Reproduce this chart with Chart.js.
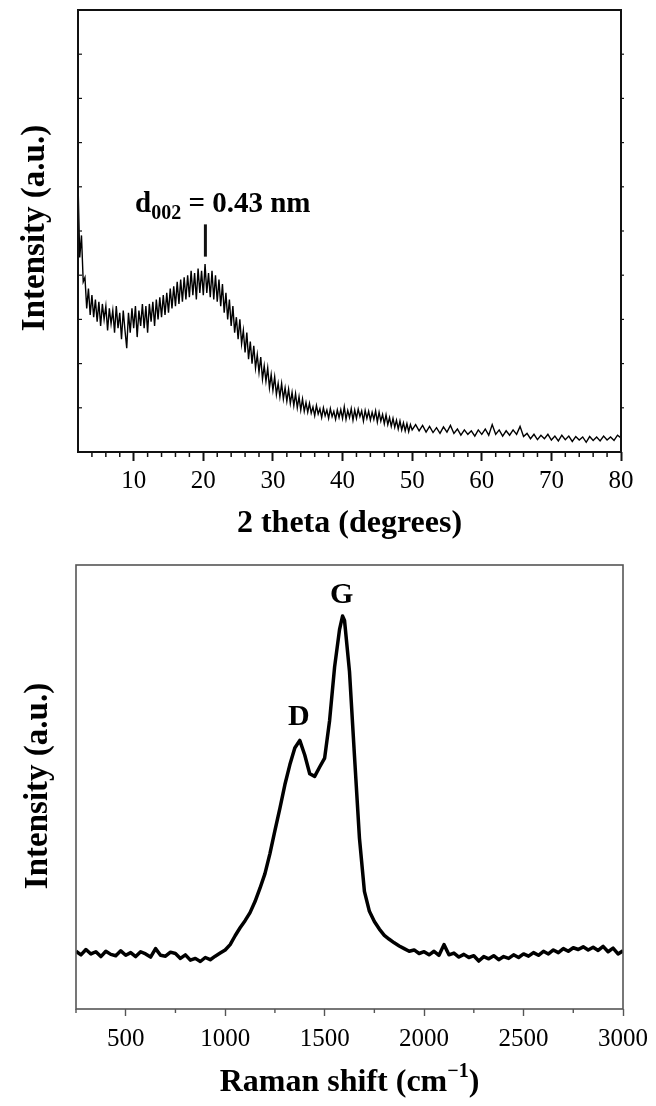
<!DOCTYPE html>
<html>
<head>
<meta charset="utf-8">
<script src="https://cdn.jsdelivr.net/npm/chart.js@4.4.1/dist/chart.umd.min.js"></script>
<style>
  html, body { margin: 0; padding: 0; background: #fff; }
  canvas { display: block; }
</style>
</head>
<body>
<canvas id="xrdChart" width="656" height="553"></canvas>
<canvas id="ramanChart" width="656" height="553"></canvas>
<script>
/* =====================================================
   DATA
===================================================== */
// one row per degree up to 50, then half-degree steps
const xrdTheta = [
  2, 2.25, 2.5, 2.75,   3, 3.25, 3.5, 3.75,   4, 4.25, 4.5, 4.75,
  5, 5.25, 5.5, 5.75,   6, 6.25, 6.5, 6.75,   7, 7.25, 7.5, 7.75,
  8, 8.25, 8.5, 8.75,   9, 9.25, 9.5, 9.75,   10, 10.25, 10.5, 10.75,
  11, 11.25, 11.5, 11.75,   12, 12.25, 12.5, 12.75,   13, 13.25, 13.5, 13.75,
  14, 14.25, 14.5, 14.75,   15, 15.25, 15.5, 15.75,   16, 16.25, 16.5, 16.75,
  17, 17.25, 17.5, 17.75,   18, 18.25, 18.5, 18.75,   19, 19.25, 19.5, 19.75,
  20, 20.25, 20.5, 20.75,   21, 21.25, 21.5, 21.75,   22, 22.25, 22.5, 22.75,
  23, 23.25, 23.5, 23.75,   24, 24.25, 24.5, 24.75,   25, 25.25, 25.5, 25.75,
  26, 26.25, 26.5, 26.75,   27, 27.25, 27.5, 27.75,   28, 28.25, 28.5, 28.75,
  29, 29.25, 29.5, 29.75,   30, 30.25, 30.5, 30.75,   31, 31.25, 31.5, 31.75,
  32, 32.25, 32.5, 32.75,   33, 33.25, 33.5, 33.75,   34, 34.25, 34.5, 34.75,
  35, 35.25, 35.5, 35.75,   36, 36.25, 36.5, 36.75,   37, 37.25, 37.5, 37.75,
  38, 38.25, 38.5, 38.75,   39, 39.25, 39.5, 39.75,   40, 40.25, 40.5, 40.75,
  41, 41.25, 41.5, 41.75,   42, 42.25, 42.5, 42.75,   43, 43.25, 43.5, 43.75,
  44, 44.25, 44.5, 44.75,   45, 45.25, 45.5, 45.75,   46, 46.25, 46.5, 46.75,
  47, 47.25, 47.5, 47.75,   48, 48.25, 48.5, 48.75,   49, 49.25, 49.5, 49.75,
  50,
  50.5, 51, 51.5, 52, 52.5, 53, 53.5, 54, 54.5, 55,
  55.5, 56, 56.5, 57, 57.5, 58, 58.5, 59, 59.5, 60,
  60.5, 61, 61.5, 62, 62.5, 63, 63.5, 64, 64.5, 65,
  65.5, 66, 66.5, 67, 67.5, 68, 68.5, 69, 69.5, 70,
  70.5, 71, 71.5, 72, 72.5, 73, 73.5, 74, 74.5, 75,
  75.5, 76, 76.5, 77, 77.5, 78, 78.5, 79, 79.5, 80
];
const xrdIntensity = [
  6.10, 4.40, 4.90, 3.85,   3.95, 3.25, 3.70, 3.10,   3.55, 3.05, 3.45, 2.95,
  3.40, 2.85, 3.35, 3.00,   3.30, 2.75, 3.25, 2.90,   3.20, 2.70, 3.30, 2.80,
  3.15, 2.55, 3.20, 2.75,   2.35, 3.15, 2.70, 3.25,   2.80, 3.30, 2.60, 3.20,
  2.85, 3.35, 2.80, 3.30,   2.70, 3.35, 2.95, 3.40,   2.85, 3.45, 3.00, 3.50,
  3.05, 3.55, 3.10, 3.60,   3.15, 3.70, 3.25, 3.75,   3.30, 3.85, 3.35, 3.90,
  3.40, 3.95, 3.45, 4.00,   3.50, 4.10, 3.55, 4.05,   3.45, 4.15, 3.60, 4.10,
  3.55, 4.25, 3.60, 4.05,   3.50, 4.10, 3.45, 4.00,   3.40, 3.90, 3.30, 3.80,
  3.15, 3.60, 3.00, 3.45,   2.85, 3.30, 2.70, 3.05,   2.55, 3.00, 2.45, 2.75,
  2.25, 2.70, 2.10, 2.50,   2.00, 2.40, 1.90, 2.20,   1.80, 2.15, 1.65, 1.95,
  1.60, 1.90, 1.45, 1.75,   1.40, 1.70, 1.30, 1.55,   1.25, 1.55, 1.20, 1.45,
  1.15, 1.42, 1.10, 1.35,   1.05, 1.32, 1.00, 1.25,   0.95, 1.20, 0.92, 1.12,
  0.90, 1.10, 0.88, 1.02,   0.82, 1.05, 0.86, 0.98,   0.78, 1.00, 0.82, 0.95,
  0.76, 0.98, 0.80, 0.92,   0.74, 0.95, 0.78, 0.96,   0.76, 1.02, 0.74, 0.94,
  0.78, 0.98, 0.72, 0.95,   0.76, 0.97, 0.80, 0.93,   0.70, 0.94, 0.76, 0.92,
  0.72, 0.90, 0.74, 0.93,   0.68, 0.90, 0.70, 0.85,   0.64, 0.84, 0.62, 0.78,
  0.58, 0.76, 0.56, 0.72,   0.52, 0.70, 0.50, 0.66,   0.48, 0.64, 0.46, 0.62,
  0.50,
  0.62, 0.48, 0.60, 0.45, 0.58, 0.44, 0.55, 0.42, 0.57, 0.45,
  0.60, 0.42, 0.52, 0.38, 0.50, 0.40, 0.48, 0.36, 0.50, 0.40,
  0.52, 0.38, 0.62, 0.40, 0.50, 0.36, 0.48, 0.38, 0.50, 0.40,
  0.58, 0.35, 0.42, 0.30, 0.40, 0.28, 0.38, 0.30, 0.40, 0.27,
  0.36, 0.25, 0.38, 0.28, 0.36, 0.24, 0.35, 0.27, 0.34, 0.22,
  0.35, 0.26, 0.34, 0.25, 0.36, 0.27, 0.34, 0.26, 0.38, 0.32
];
const xrdTicks = [10, 20, 30, 40, 50, 60, 70, 80];
const xrdMinorTicks = [4, 6, 8, 12, 14, 16, 18, 22, 24, 26, 28, 32, 34, 36, 38, 42, 44, 46, 48,
  52, 54, 56, 58, 62, 64, 66, 68, 72, 74, 76, 78];
const xrdYTicks = [1, 2, 3, 4, 5, 6, 7, 8, 9];
const xrdPeakTheta = 20.3;

const ramanShift = [
  250, 275, 300, 325, 350, 375, 400, 425, 450, 475,
  500, 525, 550, 575, 600, 625, 650, 675, 700, 725,
  750, 775, 800, 825, 850, 875, 900, 925, 950, 975,
  1000, 1025, 1050, 1075, 1100, 1125, 1150, 1175, 1200, 1225,
  1250, 1275, 1300, 1325, 1350, 1375, 1400, 1425, 1450, 1475,
  1500, 1525, 1550, 1575, 1590, 1600, 1625, 1650, 1675, 1700,
  1725, 1750, 1775, 1800, 1825, 1850, 1875, 1900, 1925, 1950,
  1975, 2000, 2025, 2050, 2075, 2100, 2125, 2150, 2175, 2200,
  2225, 2250, 2275, 2300, 2325, 2350, 2375, 2400, 2425, 2450,
  2475, 2500, 2525, 2550, 2575, 2600, 2625, 2650, 2675, 2700,
  2725, 2750, 2775, 2800, 2825, 2850, 2875, 2900, 2925, 2950,
  2975, 3000
];
const ramanIntensity = [
  1.30, 1.22, 1.34, 1.24, 1.29, 1.18, 1.30, 1.23, 1.20, 1.31,
  1.21, 1.27, 1.18, 1.29, 1.24, 1.17, 1.36, 1.21, 1.19, 1.28,
  1.25, 1.14, 1.22, 1.10, 1.14, 1.07, 1.16, 1.11, 1.19, 1.26,
  1.33, 1.45, 1.65, 1.83, 1.99, 2.17, 2.42, 2.72, 3.05, 3.50,
  4.02, 4.52, 5.05, 5.50, 5.88, 6.05, 5.72, 5.30, 5.24, 5.45,
  5.65, 6.50, 7.70, 8.55, 8.85, 8.75, 7.60, 5.70, 3.85, 2.65,
  2.20, 1.97, 1.80, 1.66, 1.57, 1.49, 1.42, 1.36, 1.30, 1.33,
  1.25, 1.29, 1.22, 1.30, 1.21, 1.45, 1.22, 1.26, 1.17, 1.23,
  1.16, 1.20, 1.08, 1.18, 1.13, 1.20, 1.11, 1.18, 1.14, 1.22,
  1.16, 1.24, 1.19, 1.27, 1.21, 1.30, 1.24, 1.33, 1.27, 1.36,
  1.30, 1.38, 1.34, 1.40, 1.33, 1.39, 1.32, 1.41, 1.29, 1.37,
  1.24, 1.31
];
const ramanTicks = [500, 1000, 1500, 2000, 2500, 3000];
const ramanMinorTicks = [250, 750, 1250, 1750, 2250, 2750];
const ramanPeakD = 1370;
const ramanPeakG = 1585;

/* =====================================================
   HELPERS
===================================================== */
const FONT = '"Liberation Serif", "Times New Roman", serif';

function line(ctx, x1, y1, x2, y2) {
  ctx.beginPath();
  ctx.moveTo(x1, y1);
  ctx.lineTo(x2, y2);
  ctx.stroke();
}

// draws bold text pieces one after another (for sub/superscripts)
function drawParts(ctx, parts, x, y, center) {
  let total = 0;
  parts.forEach(p => {
    ctx.font = `bold ${p.size}px ${FONT}`;
    total += ctx.measureText(p.text).width;
  });
  let cx = center ? x - total / 2 : x;
  parts.forEach(p => {
    ctx.font = `bold ${p.size}px ${FONT}`;
    ctx.fillText(p.text, cx, y + (p.dy || 0));
    cx += ctx.measureText(p.text).width;
  });
}

function verticalTitle(ctx, text, x, y) {
  ctx.save();
  ctx.translate(x, y);
  ctx.rotate(-Math.PI / 2);
  ctx.font = `bold 33px ${FONT}`;
  ctx.textAlign = "center";
  ctx.textBaseline = "middle";
  ctx.fillText(text, 0, 0);
  ctx.restore();
}

/* =====================================================
   XRD
===================================================== */
const xrdDecor = {
  id: "xrdDecor",
  afterDraw(chart) {
    const { ctx, chartArea: a, scales: { x, y } } = chart;
    ctx.save();
    ctx.strokeStyle = "#111";
    ctx.lineWidth = 2;
    ctx.strokeRect(a.left, a.top, a.right - a.left, a.bottom - a.top);

    ctx.lineWidth = 1.5;
    xrdMinorTicks.forEach(v => {
      const px = x.getPixelForValue(v);
      line(ctx, px, a.bottom, px, a.bottom + 5);
    });
    ctx.lineWidth = 1.2;
    xrdYTicks.forEach(v => {
      const py = y.getPixelForValue(v);
      line(ctx, a.left, py, a.left + 4, py);
      line(ctx, a.right, py, a.right + 3, py);
    });

    // d002 marker
    ctx.lineWidth = 3;
    const mx = x.getPixelForValue(xrdPeakTheta);
    line(ctx, mx, y.getPixelForValue(5.15), mx, y.getPixelForValue(4.42));

    ctx.fillStyle = "#000";
    ctx.textBaseline = "alphabetic";
    ctx.textAlign = "left";
    drawParts(ctx, [
      { text: "d", size: 29 },
      { text: "002", size: 20, dy: 7 },
      { text: " = 0.43 nm", size: 29 }
    ], x.getPixelForValue(10.2), y.getPixelForValue(5.43), false);

    verticalTitle(ctx, "Intensity (a.u.)", 35, 228);
    ctx.textAlign = "center";
    ctx.textBaseline = "middle";
    ctx.font = `bold 32px ${FONT}`;
    ctx.fillText("2 theta (degrees)", (a.left + a.right) / 2, 524);
    ctx.restore();
  }
};

new Chart(document.getElementById("xrdChart"), {
  type: "line",
  data: {
    datasets: [{
      data: xrdTheta.map((t, i) => ({ x: t, y: xrdIntensity[i] })),
      borderColor: "#000",
      borderWidth: 1.4,
      pointRadius: 0,
      tension: 0
    }]
  },
  options: {
    responsive: false,
    animation: false,
    devicePixelRatio: 1,
    layout: { padding: { left: 0, right: 35, top: 10, bottom: 0 } },
    plugins: { legend: { display: false }, tooltip: { enabled: false } },
    scales: {
      x: {
        type: "linear",
        min: 2,
        max: 80,
        afterBuildTicks: s => { s.ticks = xrdTicks.map(v => ({ value: v })); },
        afterFit: s => { s.height = 101; },
        ticks: { color: "#000", padding: 5, font: { family: FONT, size: 25 }, callback: v => String(v) },
        grid: { display: true, drawOnChartArea: false, tickLength: 9, tickWidth: 2, tickColor: "#111" },
        border: { display: false }
      },
      y: {
        min: 0,
        max: 10,
        afterFit: s => { s.width = 78; },
        ticks: { display: false },
        grid: { display: false },
        border: { display: false }
      }
    }
  },
  plugins: [xrdDecor]
});

/* =====================================================
   RAMAN
===================================================== */
const ramanDecor = {
  id: "ramanDecor",
  afterDraw(chart) {
    const { ctx, chartArea: a, scales: { x, y } } = chart;
    ctx.save();
    ctx.strokeStyle = "#555";
    ctx.lineWidth = 1.6;
    ctx.strokeRect(a.left, a.top, a.right - a.left, a.bottom - a.top);

    ctx.lineWidth = 1.4;
    ramanMinorTicks.forEach(v => {
      const px = x.getPixelForValue(v);
      line(ctx, px, a.bottom, px, a.bottom + 4);
    });

    ctx.fillStyle = "#000";
    ctx.textAlign = "center";
    ctx.textBaseline = "middle";
    ctx.font = `bold 30px ${FONT}`;
    ctx.fillText("D", x.getPixelForValue(ramanPeakD), y.getPixelForValue(6.58));
    ctx.fillText("G", x.getPixelForValue(ramanPeakG), y.getPixelForValue(9.32));

    verticalTitle(ctx, "Intensity (a.u.)", 38, 233);
    ctx.textAlign = "left";
    ctx.textBaseline = "middle";
    drawParts(ctx, [
      { text: "Raman shift (cm", size: 32 },
      { text: "\u22121", size: 20, dy: -11 },
      { text: ")", size: 32 }
    ], (a.left + a.right) / 2, 530, true);
    ctx.restore();
  }
};

new Chart(document.getElementById("ramanChart"), {
  type: "line",
  data: {
    datasets: [{
      data: ramanShift.map((s, i) => ({ x: s, y: ramanIntensity[i] })),
      borderColor: "#000",
      borderWidth: 3.5,
      borderJoinStyle: "round",
      pointRadius: 0,
      tension: 0
    }]
  },
  options: {
    responsive: false,
    animation: false,
    devicePixelRatio: 1,
    layout: { padding: { left: 0, right: 29, top: 12, bottom: 0 } },
    plugins: { legend: { display: false }, tooltip: { enabled: false } },
    scales: {
      x: {
        type: "linear",
        min: 250,
        max: 3000,
        afterBuildTicks: s => { s.ticks = ramanTicks.map(v => ({ value: v })); },
        afterFit: s => { s.height = 97; },
        ticks: { color: "#000", padding: 8, font: { family: FONT, size: 25 }, callback: v => String(v) },
        grid: { display: true, drawOnChartArea: false, tickLength: 7, tickWidth: 1.4, tickColor: "#555" },
        border: { display: false }
      },
      y: {
        min: 0,
        max: 10,
        afterFit: s => { s.width = 76; },
        ticks: { display: false },
        grid: { display: false },
        border: { display: false }
      }
    }
  },
  plugins: [ramanDecor]
});
</script>
</body>
</html>
